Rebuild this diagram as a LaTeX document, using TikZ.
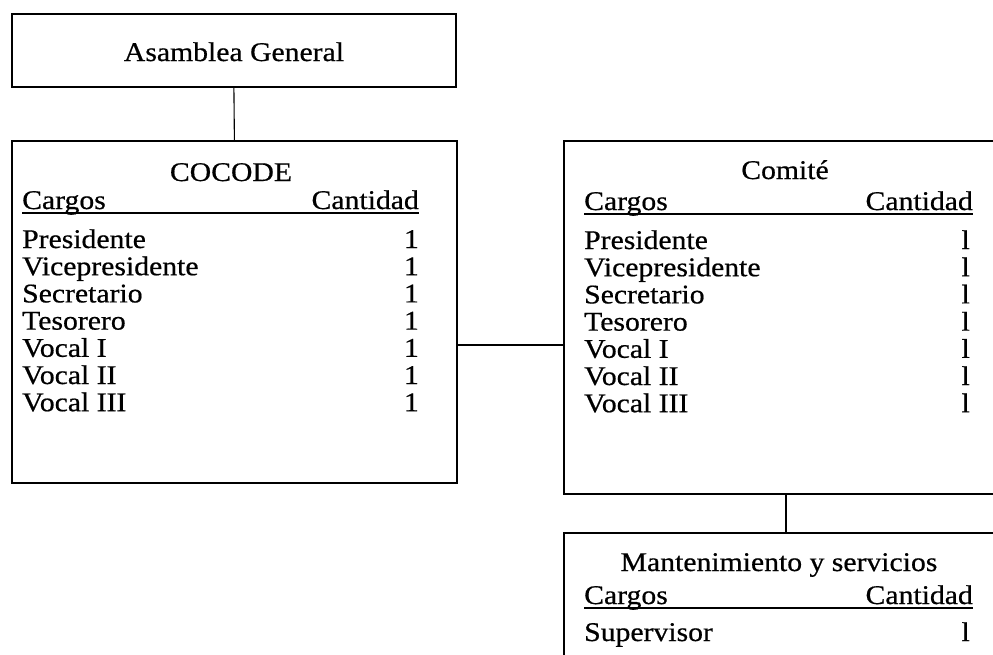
\documentclass[tikz,border=0pt]{standalone}
\usepackage{fontspec}
\setmainfont[FakeStretch=1.1,FakeBold=0.6]{Liberation Serif}
\begin{document}
\begin{tikzpicture}[x=1pt,y=-1pt,
  box/.style={draw,line width=1.8pt,rectangle,inner sep=0pt,anchor=north west},
  conn/.style={line width=1.1pt},
  txt/.style={font=\fontsize{27}{30}\selectfont,inner sep=0pt},
  ctr/.style={txt,anchor=base},
  lft/.style={txt,anchor=base west},
  rgt/.style={txt,anchor=base east},
  ul/.style={line width=1.4pt}]
\useasboundingbox (0,0) rectangle (993,654);
\fill[white] (0,0) rectangle (993,654);
% boxes
\node[box,minimum width=444pt,minimum height=73pt] (asam) at (11,13) {};
\node[box,minimum width=445pt,minimum height=342pt] (cocode) at (11,140) {};
\node[box,minimum width=440pt,minimum height=353pt] (comite) at (563,140) {};
\node[box,minimum width=440pt,minimum height=140pt] (mant) at (563,532) {};
% connectors
\draw[conn] (asam.south) -- (cocode.north);
\draw[conn] (cocode.east |- 0,345) -- (comite.west |- 0,345);
\draw[conn] (comite.south -| 786,0) -- (mant.north -| 786,0);
% Asamblea
\node[ctr] (tAsam) at (234,61) {Asamblea General};
% COCODE
\node[ctr] (tCoc) at (231,181) {COCODE};
\node[lft] (cCar) at (22,209) {Cargos};
\node[rgt] (cCan) at (419,209) {Cantidad};
\draw[ul] (22,213) -- (419,213);
\foreach \n/\t [count=\i from 0] in {p/Presidente,v/Vicepresidente,s/Secretario,t/Tesorero,a/Vocal I,b/Vocal II,c/Vocal III}{
  \node[lft] (c\n) at (22,{248+27.2*\i}) {\t};
  \node[rgt] (c\n q) at (419,{248+27.2*\i}) {1};
}
% Comite
\node[ctr] (tCom) at (785,179) {Comité};
\node[lft] (mCar) at (584,210) {Cargos};
\node[rgt] (mCan) at (973,210) {Cantidad};
\draw[ul] (584,214) -- (973,214);
\foreach \n/\t [count=\i from 0] in {p/Presidente,v/Vicepresidente,s/Secretario,t/Tesorero,a/Vocal I,b/Vocal II,c/Vocal III}{
  \node[lft] (m\n) at (584,{249+27.2*\i}) {\t};
  \node[rgt] (m\n q) at (970,{249+27.2*\i}) {l};
}
% Mantenimiento
\node[ctr] (tMan) at (779,571) {Mantenimiento y servicios};
\node[lft] (sCar) at (584,604) {Cargos};
\node[rgt] (sCan) at (973,604) {Cantidad};
\draw[ul] (584,608) -- (973,608);
\node[lft] (sSup) at (584,641) {Supervisor};
\node[rgt] (sSupq) at (970,641) {l};
\end{tikzpicture}
\end{document}
